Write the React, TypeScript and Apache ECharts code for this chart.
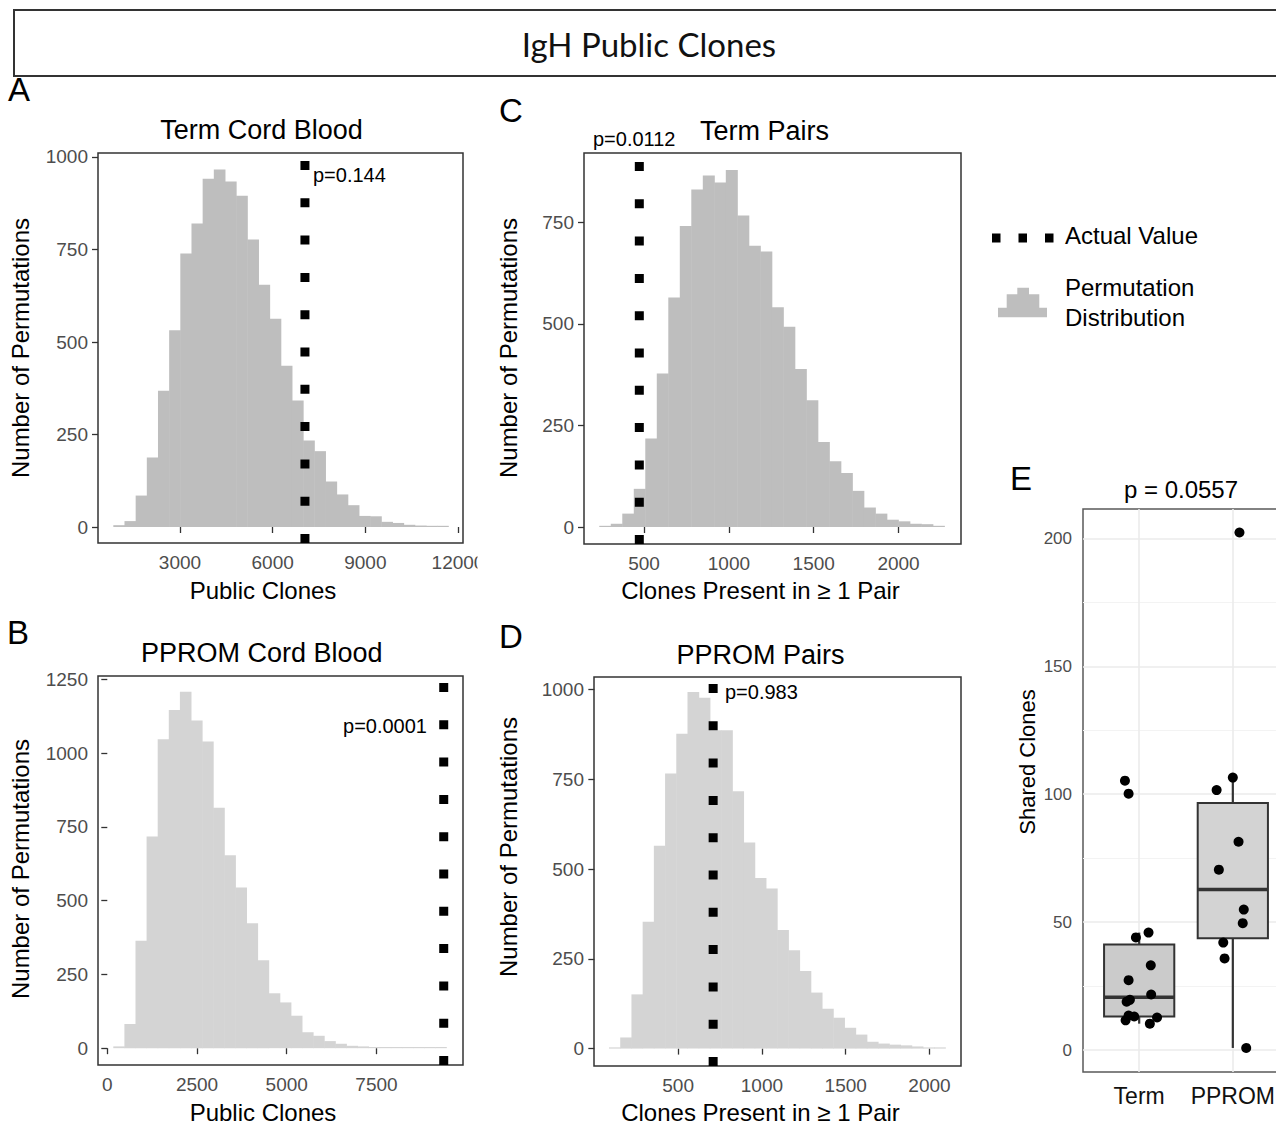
import React, { useEffect, useRef } from 'react';
import * as echarts from 'echarts';

const FONT = "'Liberation Sans', Arial, Helvetica, sans-serif";

// ---------- Panel A: Term Cord Blood ----------
const aCounts = [5, 16, 85, 188, 368, 532, 739, 820, 941, 966, 934, 895, 777, 655, 563, 436, 342, 234, 205, 123, 88, 59, 30, 29, 14, 11, 6, 4, 3, 2];
const aBinStart = 841;
const aBinWidth = 361.5;
const aActual = 7045;
const aXTicks = [3000, 6000, 9000, 12000];
const aYTicks = [0, 250, 500, 750, 1000];

// ---------- Panel C: Term Pairs ----------
const cCounts = [2, 8, 33, 94, 218, 378, 565, 741, 831, 865, 848, 879, 767, 692, 678, 541, 493, 389, 312, 209, 162, 133, 89, 48, 33, 18, 14, 8, 7, 3];
const cBinStart = 236;
const cBinWidth = 67.8;
const cActual = 472;
const cXTicks = [500, 1000, 1500, 2000];
const cYTicks = [0, 250, 500, 750];

// ---------- Panel B: PPROM Cord Blood ----------
const bCounts = [6, 82, 364, 717, 1047, 1146, 1208, 1110, 1039, 815, 654, 544, 423, 298, 186, 155, 110, 54, 42, 24, 15, 8, 6, 3, 2, 2, 1, 1, 1, 1];
const bBinStart = 167;
const bBinWidth = 309.3;
const bActual = 9374;
const bXTicks = [0, 2500, 5000, 7500];
const bYTicks = [0, 250, 500, 750, 1000, 1250];

// ---------- Panel D: PPROM Pairs ----------
const dCounts = [2, 31, 151, 353, 565, 766, 877, 993, 977, 887, 887, 717, 574, 475, 446, 330, 274, 216, 156, 111, 86, 58, 39, 19, 14, 11, 9, 6, 3, 3];
const dBinStart = 87.6;
const dBinWidth = 66.9;
const dActual = 709;
const dXTicks = [500, 1000, 1500, 2000];
const dYTicks = [0, 250, 500, 750, 1000];

// ---------- Panel E: Shared clones ----------
const eCategories = ['Term', 'PPROM'];
// [category position, lower whisker, Q1, median, Q3, upper whisker]
const eBoxTerm = [1, 10.3, 13.1, 20.6, 41.2, 45.9];
const eBoxPprom = [2, 0.8, 43.7, 62.7, 96.6, 106.5];
const eTermX = [0.848, 0.887, 0.965, 1.1, 1.124, 0.887, 1.128, 0.866, 0.901, 0.887, 0.947, 0.855, 1.191, 1.114];
const eTermY = [105.3, 100.2, 44, 45.9, 33.1, 27.3, 21.7, 18.9, 19.6, 13.5, 13.1, 11.6, 12.7, 10.3];
const ePpromX = [2.071, 2.0, 1.827, 2.061, 1.851, 2.117, 2.106, 1.898, 1.912, 2.143];
const ePpromY = [202.3, 106.5, 101.6, 81.4, 70.5, 54.9, 49.6, 42, 35.8, 0.8];
const eYTicks = [0, 50, 100, 150, 200];
const eYMinor = [25, 75, 125, 175];

const GRID_LINE = '#333333';
const TICK_LABEL = '#4d4d4d';

function histData(counts: number[], start: number, w: number) {
  return counts.map((c, i) => [start + i * w, start + (i + 1) * w, c]);
}

function histRender(fill: string) {
  return (params: any, api: any) => {
    const x0 = api.value(0);
    const x1 = api.value(1);
    const c = api.value(2);
    const p0 = api.coord([x0, c]);
    const p1 = api.coord([x1, 0]);
    const h = Math.max(p1[1] - p0[1], 1.2);
    return {
      type: 'rect',
      shape: { x: p0[0], y: p1[1] - h, width: p1[0] - p0[0] + 0.5, height: h },
      style: { fill },
    };
  };
}

const plain = (v: number) => String(v);

function histAxis(gridIndex: number, min: number, max: number, ticks: number[]) {
  return {
    type: 'value',
    gridIndex,
    min,
    max,
    axisLine: { show: false },
    splitLine: { show: false },
    axisTick: { show: true, length: 6, customValues: ticks, lineStyle: { color: GRID_LINE, width: 1.3 } },
    axisLabel: { customValues: ticks, color: TICK_LABEL, fontSize: 19, fontFamily: FONT, margin: 10, formatter: plain },
  };
}

function histSeries(idx: number, counts: number[], start: number, w: number, fill: string) {
  return {
    type: 'custom',
    xAxisIndex: idx,
    yAxisIndex: idx,
    clip: true,
    z: 2,
    renderItem: histRender(fill),
    encode: { x: [0, 1], y: 2 },
    data: histData(counts, start, w),
  };
}

function actualSeries(idx: number, actual: number, yMin: number, yMax: number) {
  return {
    type: 'line',
    xAxisIndex: idx,
    yAxisIndex: idx,
    z: 5,
    symbol: 'none',
    clip: true,
    silent: true,
    lineStyle: { color: '#000', width: 9, type: [9, 28.3], cap: 'butt' },
    data: [[actual, yMin], [actual, yMax]],
  };
}

function txt(text: string, x: number, y: number, size: number, opts: any = {}) {
  return {
    type: 'text',
    x,
    y,
    rotation: opts.rotation || 0,
    z: 50,
    style: {
      text,
      fill: opts.fill || '#000',
      font: `${size}px ${opts.family || FONT}`,
      textAlign: opts.align || 'center',
      textVerticalAlign: 'middle',
    },
  };
}

const A_Y: [number, number] = [-43.2, 1010.8];
const C_Y: [number, number] = [-41.8, 920.6];
const B_Y: [number, number] = [-57, 1261];
const D_Y: [number, number] = [-48.5, 1035];

export default function App() {
  const ref = useRef<HTMLDivElement>(null);

  useEffect(() => {
    if (!ref.current) return;
    const chart = echarts.init(ref.current, undefined, { renderer: 'svg' });

    const gridBase = { show: true, borderColor: GRID_LINE, borderWidth: 1.5, backgroundColor: 'transparent', containLabel: false, outerBoundsMode: 'none' };

    const option: any = {
      animation: false,
      backgroundColor: '#ffffff',
      grid: [
        { ...gridBase, left: 98, top: 153, width: 365, height: 390 },
        { ...gridBase, left: 584, top: 153, width: 377, height: 391 },
        { ...gridBase, left: 98, top: 676, width: 365, height: 389 },
        { ...gridBase, left: 594, top: 677, width: 367, height: 389 },
        { ...gridBase, left: 1083, top: 509, width: 206, height: 563, borderColor: '#5a5a5a', borderWidth: 1.5 },
      ],
      xAxis: [
        histAxis(0, 345, 12162, aXTicks),
        histAxis(1, 146, 2368, cXTicks),
        histAxis(2, -259, 9911, bXTicks),
        histAxis(3, -2, 2188, dXTicks),
        {
          type: 'value',
          gridIndex: 4,
          min: 0.4,
          max: 2.6,
          axisLine: { show: false },
          splitLine: { show: false },
          axisTick: { show: false },
          axisLabel: {
            customValues: [1, 2],
            color: '#111',
            fontSize: 23,
            fontFamily: FONT,
            margin: 12,
            formatter: (v: number) => eCategories[Math.round(v) - 1] || '',
          },
        },
      ],
      yAxis: [
        histAxis(0, A_Y[0], A_Y[1], aYTicks),
        histAxis(1, C_Y[0], C_Y[1], cYTicks),
        histAxis(2, B_Y[0], B_Y[1], bYTicks),
        histAxis(3, D_Y[0], D_Y[1], dYTicks),
        {
          type: 'value',
          gridIndex: 4,
          min: -8.6,
          max: 211.5,
          axisLine: { show: false },
          splitLine: { show: false },
          axisTick: { show: false },
          axisLabel: { customValues: eYTicks, color: TICK_LABEL, fontSize: 17, fontFamily: FONT, margin: 11, formatter: plain },
        },
      ],
      series: [
        histSeries(0, aCounts, aBinStart, aBinWidth, '#bebebe'),
        actualSeries(0, aActual, A_Y[0], A_Y[1]),
        histSeries(1, cCounts, cBinStart, cBinWidth, '#bebebe'),
        actualSeries(1, cActual, C_Y[0], C_Y[1]),
        histSeries(2, bCounts, bBinStart, bBinWidth, '#d4d4d4'),
        actualSeries(2, bActual, B_Y[0], B_Y[1]),
        histSeries(3, dCounts, dBinStart, dBinWidth, '#d4d4d4'),
        actualSeries(3, dActual, D_Y[0], D_Y[1]),
        // E grid lines
        {
          type: 'line',
          xAxisIndex: 4,
          yAxisIndex: 4,
          data: [],
          z: 1,
          silent: true,
          markLine: {
            z: 1,
            silent: true,
            symbol: 'none',
            label: { show: false },
            animation: false,
            data: [
              ...eYMinor.map((v) => ({ yAxis: v, lineStyle: { color: '#f3f3f3', width: 1, type: 'solid' } })),
              ...eYTicks.map((v) => ({ yAxis: v, lineStyle: { color: '#ebebeb', width: 1.6, type: 'solid' } })),
              ...[1, 2].map((v) => ({ xAxis: v, lineStyle: { color: '#ebebeb', width: 1.6, type: 'solid' } })),
            ],
          },
        },
        // E boxes
        {
          type: 'custom',
          xAxisIndex: 4,
          yAxisIndex: 4,
          z: 10,
          clip: true,
          encode: { x: 0, y: [1, 2, 3, 4, 5] },
          data: [eBoxTerm, eBoxPprom],
          renderItem: (params: any, api: any) => {
            const x = api.value(0);
            const lo = api.value(1);
            const q1 = api.value(2);
            const med = api.value(3);
            const q3 = api.value(4);
            const hi = api.value(5);
            const fill = params.dataIndex === 0 ? '#cbcbcb' : '#d3d3d3';
            const top = api.coord([x, hi]);
            const bot = api.coord([x, lo]);
            const tl = api.coord([x - 0.375, q3]);
            const br = api.coord([x + 0.375, q1]);
            const ml = api.coord([x - 0.375, med]);
            const mr = api.coord([x + 0.375, med]);
            const stroke = '#333333';
            return {
              type: 'group',
              children: [
                { type: 'line', shape: { x1: top[0], y1: top[1], x2: top[0], y2: tl[1] }, style: { stroke, lineWidth: 2.2 } },
                { type: 'line', shape: { x1: bot[0], y1: br[1], x2: bot[0], y2: bot[1] }, style: { stroke, lineWidth: 2.2 } },
                { type: 'rect', shape: { x: tl[0], y: tl[1], width: br[0] - tl[0], height: br[1] - tl[1] }, style: { fill, stroke, lineWidth: 2 } },
                { type: 'line', shape: { x1: ml[0], y1: ml[1], x2: mr[0], y2: mr[1] }, style: { stroke, lineWidth: 3.5 } },
              ],
            };
          },
        },
        // E points
        {
          type: 'scatter',
          xAxisIndex: 4,
          yAxisIndex: 4,
          z: 12,
          symbolSize: 10,
          itemStyle: { color: '#000', opacity: 1 },
          data: eTermX.map((x, i) => [x, eTermY[i]]),
        },
        {
          type: 'scatter',
          xAxisIndex: 4,
          yAxisIndex: 4,
          z: 12,
          symbolSize: 10,
          itemStyle: { color: '#000', opacity: 1 },
          data: ePpromX.map((x, i) => [x, ePpromY[i]]),
        },
      ],
      graphic: [
        // overall title box
        { type: 'rect', z: 40, shape: { x: 14, y: 10, width: 1300, height: 66 }, style: { fill: 'none', stroke: '#333', lineWidth: 2 } },
        txt('IgH Public Clones', 649, 44, 33, { family: "Lato, 'Open Sans', sans-serif", fill: '#111' }),
        // clip cut tick label of panel A
        { type: 'rect', z: 45, shape: { x: 477.5, y: 549, width: 24, height: 28 }, style: { fill: '#fff' } },
        // panel letters
        txt('A', 19, 89, 33),
        txt('C', 511, 110, 33),
        txt('B', 18, 632, 33),
        txt('D', 511, 636, 33),
        txt('E', 1021, 478, 33),
        // panel titles
        txt('Term Cord Blood', 261.5, 130, 27),
        txt('Term Pairs', 764.5, 131, 27),
        txt('PPROM Cord Blood', 261.7, 653, 27),
        txt('PPROM Pairs', 760.5, 655, 27),
        txt('p = 0.0557', 1181, 489, 24),
        // axis titles
        txt('Public Clones', 263, 590, 24),
        txt('Clones Present in \u2265 1 Pair', 760.5, 590, 24),
        txt('Public Clones', 263, 1112, 24),
        txt('Clones Present in \u2265 1 Pair', 760.5, 1112, 24),
        txt('Number of Permutations', 20, 348, 24, { rotation: Math.PI / 2 }),
        txt('Number of Permutations', 508, 348, 24, { rotation: Math.PI / 2 }),
        txt('Number of Permutations', 20, 869, 24, { rotation: Math.PI / 2 }),
        txt('Number of Permutations', 508, 847, 24, { rotation: Math.PI / 2 }),
        txt('Shared Clones', 1027, 762, 22, { rotation: Math.PI / 2 }),
        // p-value annotations
        txt('p=0.144', 313, 175, 20, { align: 'left' }),
        txt('p=0.0112', 593, 139, 20, { align: 'left' }),
        txt('p=0.0001', 427, 726, 20, { align: 'right' }),
        txt('p=0.983', 725, 692, 20, { align: 'left' }),
        // legend
        { type: 'line', z: 40, shape: { x1: 992, y1: 238, x2: 1054, y2: 238 }, style: { stroke: '#000', lineWidth: 9, lineDash: [8.5, 18], lineCap: 'butt' } },
        txt('Actual Value', 1065, 235, 24, { align: 'left' }),
        {
          type: 'polygon',
          z: 40,
          shape: {
            points: [
              [998, 317.3], [998, 307.7], [1006.7, 307.7], [1006.7, 294.3], [1017.3, 294.3], [1017.3, 287.7],
              [1029, 287.7], [1029, 294.3], [1039.3, 294.3], [1039.3, 307.7], [1047, 307.7], [1047, 317.3],
            ],
          },
          style: { fill: '#bebebe' },
        },
        txt('Permutation', 1065, 287, 24, { align: 'left' }),
        txt('Distribution', 1065, 317, 24, { align: 'left' }),
      ],
    };

    chart.setOption(option);
    return () => {
      chart.dispose();
    };
  }, []);

  return (
    <div
      ref={ref}
      style={{ position: 'absolute', left: 0, top: 0, width: 1276, height: 1126, overflow: 'hidden', background: '#fff' }}
    />
  );
}
